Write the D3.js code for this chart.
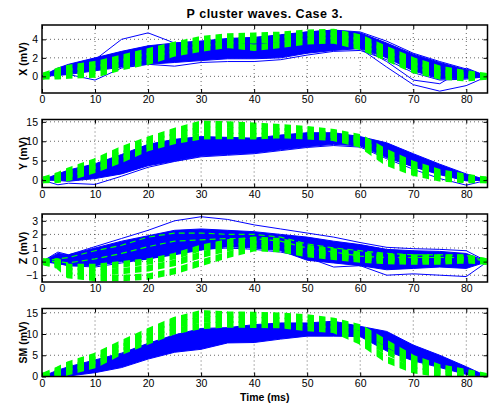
<!DOCTYPE html>
<html>
<head>
<meta charset="utf-8">
<script src="https://cdn.jsdelivr.net/npm/d3@7"></script>
<style>
  body { margin: 0; background: #fff; }
  svg { display: block; }
  text { font-family: "Liberation Sans", Arial, sans-serif; fill: #000; }
</style>
</head>
<body>
<div id="chart"></div>
<script>
// sample times (ms) the curves were read at
var times = [0, 3, 5, 10, 15, 20, 25, 30, 35, 40, 45, 50, 55, 60, 65, 70, 75, 80, 84];
var timeTicks = [0, 10, 20, 30, 40, 50, 60, 70, 80];

// X lead
var xBlueHi  = [0, 0.9, 1.3, 2.0, 2.7, 3.3, 3.6, 3.8, 4.1, 4.2, 4.5, 4.8, 5.0, 4.7, 3.6, 2.4, 1.5, 0.7, 0];
var xBlueLo  = [0, 0.1, 0.2, 0.6, 1.0, 1.3, 1.5, 1.7, 1.9, 1.9, 2.0, 2.5, 2.8, 3.0, 2.0, 0.6, -0.3, -0.2, 0];
var xOutUp   = [0, 0.8, 1.1, 1.8, 4.0, 4.7, 3.6, 3.8, 4.0, 4.2, 4.4, 4.8, 5.0, 4.8, 3.8, 2.5, 1.6, 0.8, 0];
var xOutDip  = [0, 0.3, 0.2, -0.4, 0.9, 1.3, 1.1, 1.5, 1.6, 1.6, 1.8, 2.3, 2.7, 2.8, 1.8, 0.4, -0.4, -0.3, 0];
var xOutTail = [0, 0.5, 0.8, 1.2, 1.8, 2.3, 2.6, 2.9, 3.0, 3.1, 3.3, 3.5, 3.6, 3.0, 1.0, -0.9, -1.6, -1.0, 0];
var xOutTail2= [0, 0.6, 0.9, 1.4, 2.0, 2.6, 2.9, 3.1, 3.3, 3.4, 3.5, 3.7, 3.8, 3.2, 1.6, -0.4, -0.8, 0.9, 0];
var xGreenHi = [0, 0.6, 0.9, 1.3, 2.0, 2.7, 3.4, 4.0, 4.3, 4.4, 4.5, 4.7, 4.8, 4.2, 2.9, 1.7, 0.8, 0.3, 0];
var xGreenMd = [0, 0.3, 0.5, 0.8, 1.5, 2.2, 3.0, 3.5, 3.9, 3.9, 4.0, 4.3, 4.4, 3.7, 2.5, 1.2, 0.4, 0.1, 0];
var xGreenLo = [0, 0.0, 0.1, 0.2, 1.0, 1.6, 2.5, 3.0, 3.4, 3.1, 3.4, 3.8, 3.9, 3.2, 2.0, 0.7, 0.0, -0.2, 0];

// Y lead
var yBlueHi  = [0, 1.6, 2.6, 4.2, 6.6, 9.2, 10.5, 11.2, 11.0, 10.8, 11.6, 12.2, 12.2, 11.2, 9.6, 6.8, 4.1, 1.6, 0];
var yBlueLo  = [0, -0.1, -0.3, 0.4, 1.6, 3.7, 4.9, 6.2, 6.6, 7.0, 7.8, 8.6, 9.2, 8.8, 5.8, 3.4, 1.4, -0.2, 0];
var yOutLo   = [0, -1.2, -0.8, -1.1, 1.0, 3.3, 4.8, 6.0, 6.4, 6.8, 7.6, 8.4, 8.9, 8.5, 5.5, 2.8, 0.4, -1.3, 0];
var yGreenHi = [0, 1.2, 2.4, 4.8, 7.9, 10.4, 12.6, 14.5, 14.3, 14.0, 13.6, 13.1, 12.3, 11.0, 7.1, 4.1, 2.0, 0.8, 0];
var yGreenMd = [0, 0.6, 1.4, 3.7, 6.5, 9.3, 11.4, 13.0, 12.8, 12.6, 12.6, 12.2, 11.6, 10.1, 5.8, 2.9, 1.1, 0.3, 0];
var yGreenLo = [0, 0.1, 0.6, 2.7, 5.3, 8.3, 10.1, 11.3, 11.4, 11.3, 11.6, 11.3, 10.9, 9.2, 4.5, 1.9, 0.5, 0.0, 0];

// Z lead
var zBlueHi  = [0, 0.6, 0.5, 1.0, 1.5, 1.9, 2.3, 2.4, 2.3, 2.2, 2.0, 1.8, 1.5, 1.25, 0.9, 0.8, 0.75, 0.6, 0];
var zBlueLo  = [0, -0.15, -0.3, -0.3, 0.0, 0.2, 0.5, 0.85, 1.1, 1.0, 0.8, 0.1, -0.1, -0.3, -0.6, -0.5, -0.4, -0.5, 0];
var zOutUp   = [0, 0.7, 0.5, 1.1, 1.7, 2.3, 3.0, 3.3, 3.1, 2.7, 2.4, 2.1, 1.8, 1.4, 1.05, 0.95, 0.9, 0.8, 0];
var zOutLo   = [0, -0.1, -0.3, -0.4, -0.1, 0.2, 0.6, 0.9, 1.0, 0.9, 0.7, 0.3, -0.4, -0.3, -1.0, -0.9, -1.0, -1.1, 0];
var zGreenTop= [0, 0.2, 0.3, 0.8, 1.2, 1.8, 2.1, 2.1, 2.0, 2.0, 1.8, 1.3, 1.0, 0.8, 0.6, 0.5, 0.5, 0.45, 0];
var zGreenMid= [0, 0.0, -0.1, 0.2, 0.6, 1.1, 1.5, 1.6, 1.7, 1.7, 1.5, 1.0, 0.7, 0.4, 0.3, 0.3, 0.3, 0.3, 0];
var zGreenHi = [0, 0.0, -0.4, -0.4, -0.2, 0.0, 0.4, 1.0, 1.4, 1.6, 1.5, 1.0, 0.75, 0.5, 0.35, 0.3, 0.3, 0.3, 0];
var zGreenMd = [0, -0.2, -0.7, -0.8, -0.7, -0.5, -0.1, 0.5, 1.0, 1.3, 1.2, 0.8, 0.55, 0.35, 0.2, 0.15, 0.15, 0.2, 0];
var zGreenLo = [0, -0.3, -1.0, -1.2, -1.2, -1.1, -0.7, -0.1, 0.5, 1.0, 0.9, 0.55, 0.35, 0.15, 0.05, 0.0, 0.0, 0.1, 0];

// spatial magnitude
var smBlueHi  = [0, 1.5, 2.3, 3.9, 5.5, 7.8, 9.8, 11.3, 11.5, 12.2, 12.6, 12.6, 13.0, 11.8, 10.6, 7.4, 5.0, 2.3, 0];
var smBlueLo  = [0, 0, 0.1, 0.9, 2.1, 4.1, 5.7, 6.4, 7.9, 8.0, 8.8, 9.5, 9.5, 9.4, 6.0, 3.7, 2.1, 0.5, 0];
var smGreenHi = [0, 1.6, 2.8, 4.8, 7.8, 10.6, 13.3, 14.9, 14.6, 14.5, 14.3, 13.9, 13.1, 11.5, 7.8, 4.3, 2.1, 1.0, 0];
var smGreenMd = [0, 1.0, 2.0, 3.7, 6.9, 9.5, 12.1, 13.4, 13.4, 13.3, 13.2, 12.6, 12.0, 9.9, 5.9, 2.9, 1.3, 0.5, 0];
var smGreenLo = [0, 0.3, 1.1, 2.7, 5.9, 8.3, 10.7, 11.9, 12.3, 12.2, 12.1, 11.4, 11.0, 8.3, 4.0, 1.5, 0.6, 0.1, 0];

var panels = [
  { label: 'X (mV)', top: 25, domain: [-1.8, 5.55], ticks: [0, 2, 4],
    band: [xBlueHi, xBlueLo], blue: [xBlueHi, xBlueLo, xOutUp, xOutDip, xOutTail, xOutTail2],
    thin: [], green: [xGreenHi, xGreenMd, xGreenLo] },
  { label: 'Y (mV)', top: 119.5, domain: [-1.9, 15.6], ticks: [0, 5, 10, 15],
    band: [yBlueHi, yBlueLo], blue: [yBlueHi, yBlueLo, yOutLo],
    thin: [], green: [yGreenHi, yGreenMd, yGreenLo] },
  { label: 'Z (mV)', top: 214, domain: [-1.5, 3.5], ticks: [-1, 0, 1, 2, 3],
    band: [zBlueHi, zBlueLo], blue: [zBlueHi, zBlueLo, zOutUp, zOutLo],
    thin: [zGreenTop, zGreenMid], green: [zGreenHi, zGreenMd, zGreenLo] },
  { label: 'SM (mV)', top: 308.5, domain: [0, 16], ticks: [0, 5, 10, 15],
    band: [smBlueHi, smBlueLo], blue: [smBlueHi, smBlueLo],
    thin: [], green: [smGreenHi, smGreenMd, smGreenLo] }
];

var W = 489, H = 403;
var left = 42, right = 487.5, ph = 68;
var dashStep = 11.5, dashOn = 6.5;   // the thick green dashes line up in columns
var blue = '#0000ff', green = '#00ff00';

var svg = d3.select('#chart').append('svg')
  .attr('width', W).attr('height', H);

var x = d3.scaleLinear().domain([0, 84]).range([left, right]);

svg.append('text')
  .attr('x', (left + right) / 2).attr('y', 18)
  .attr('text-anchor', 'middle')
  .style('font-size', '12.5px').style('font-weight', 'bold')
  .style('letter-spacing', '0.5px')
  .text('P cluster waves. Case 3.');

panels.forEach(function (p, i) {
  var y = d3.scaleLinear().domain(p.domain).range([p.top + ph, p.top]);
  var g = svg.append('g');

  g.append('clipPath').attr('id', 'clip' + i)
    .append('rect').attr('x', left).attr('y', p.top)
    .attr('width', right - left).attr('height', ph);

  g.append('clipPath').attr('id', 'dash' + i)
    .selectAll('rect').data(d3.range(left + 1, right, dashStep)).enter().append('rect')
      .attr('x', function (d) { return d; }).attr('y', p.top)
      .attr('width', dashOn).attr('height', ph);

  // dotted grid
  g.selectAll('line.gx').data(timeTicks.slice(1)).enter().append('line')
    .attr('x1', x).attr('x2', x).attr('y1', p.top).attr('y2', p.top + ph)
    .attr('stroke', '#000').attr('stroke-width', 0.6).attr('stroke-dasharray', '1,3');
  g.selectAll('line.gy').data(p.ticks).enter().append('line')
    .attr('x1', left).attr('x2', right).attr('y1', y).attr('y2', y)
    .attr('stroke', '#000').attr('stroke-width', 0.6).attr('stroke-dasharray', '1,3');

  var data = g.append('g').attr('clip-path', 'url(#clip' + i + ')');

  var line = d3.line()
    .x(function (d, k) { return x(times[k]); })
    .y(function (d) { return y(d); });
  var area = d3.area()
    .x(function (d, k) { return x(times[k]); })
    .y0(function (d, k) { return y(p.band[1][k]); })
    .y1(function (d) { return y(d); });

  data.append('path').datum(p.band[0])
    .attr('d', area).attr('fill', blue);

  data.selectAll('path.blue').data(p.blue).enter().append('path')
    .attr('d', line).attr('fill', 'none')
    .attr('stroke', blue).attr('stroke-width', 1);

  data.selectAll('path.thin').data(p.thin).enter().append('path')
    .attr('d', line).attr('fill', 'none')
    .attr('stroke', green).attr('stroke-width', 1.2)
    .attr('stroke-dasharray', '6,4');

  data.append('g').attr('clip-path', 'url(#dash' + i + ')')
    .selectAll('path').data(p.green).enter().append('path')
      .attr('d', line).attr('fill', 'none')
      .attr('stroke', green).attr('stroke-width', 6.5);

  // axes: ticks point inward, mirrored on the opposite sides
  var xa = d3.axisBottom(x).tickValues(timeTicks).tickSize(-4).tickPadding(3);
  var ya = d3.axisLeft(y).tickValues(p.ticks).tickSize(-4).tickPadding(4)
    .tickFormat(function (d) { return d < 0 ? '\u2212' + Math.abs(d) : d; });
  g.append('g').attr('transform', 'translate(0,' + (p.top + ph) + ')').call(xa);
  g.append('g').attr('transform', 'translate(' + left + ',0)').call(ya);
  g.append('g').attr('transform', 'translate(0,' + p.top + ')')
    .call(d3.axisTop(x).tickValues(timeTicks).tickSize(-4).tickFormat(''));
  g.append('g').attr('transform', 'translate(' + right + ',0)')
    .call(d3.axisRight(y).tickValues(p.ticks).tickSize(-4).tickFormat(''));
  g.selectAll('.domain').remove();
  g.selectAll('.tick line').attr('stroke', '#000').attr('stroke-width', 1);
  g.selectAll('.tick text').style('font-size', '10.5px')
    .style('font-family', '"Liberation Sans", Arial, sans-serif').attr('fill', '#000');

  g.append('rect').attr('x', left).attr('y', p.top)
    .attr('width', right - left).attr('height', ph)
    .attr('fill', 'none').attr('stroke', '#000').attr('stroke-width', 1.5);

  g.append('text')
    .attr('transform', 'translate(' + 27 + ',' + (p.top + ph / 2) + ') rotate(-90)')
    .attr('text-anchor', 'middle')
    .style('font-size', '10.5px').style('font-weight', 'bold')
    .text(p.label);
});

svg.append('text')
  .attr('x', (left + right) / 2).attr('y', 401)
  .attr('text-anchor', 'middle')
  .style('font-size', '10.5px').style('font-weight', 'bold')
  .text('Time (ms)');
</script>
</body>
</html>
